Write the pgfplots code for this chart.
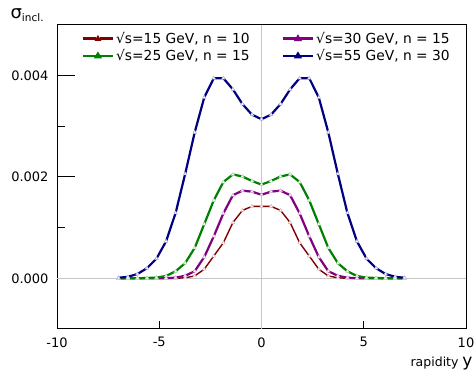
\documentclass[border=0pt]{standalone}
\usepackage{fontspec}
\setmainfont{DejaVu Sans}
\usepackage{pgfplots}
\pgfplotsset{compat=1.18}
\definecolor{cred}{RGB}{128,0,0}
\definecolor{cgreen}{RGB}{0,128,0}
\definecolor{cpurple}{RGB}{128,0,128}
\definecolor{cblue}{RGB}{0,0,128}
\begin{document}
\begin{tikzpicture}
\begin{axis}[
  scale only axis, width=409pt, height=304pt,
  xmin=-10, xmax=10, ymin=-0.001, ymax=0.005,
  clip=false,
  axis line style={line width=1pt},
  every tick/.style={black, line width=1pt},
  tick pos=left, tick align=inside,
  xtick={-10,0,10},
  extra x ticks={-5,5},
  extra x tick style={major tick length=8pt},
  ytick={0,0.002,0.004},
  minor ytick={-0.001,0.001,0.003,0.005},
  major tick length=18pt, minor tick length=8pt,
  scaled y ticks=false,
  /pgf/number format/assume math mode=true,
  yticklabel style={/pgf/number format/.cd, fixed, fixed zerofill, precision=3, /tikz/.cd, xshift=-5pt},
  xticklabel style={yshift=-5pt},
  tick label style={font=\fontsize{13}{14}\selectfont},
  legend style={at={(0.0525,0.99)}, anchor=north west, draw=none, fill=none,
    font=\fontsize{13.8}{15}\selectfont, row sep=0.5pt,
    /tikz/every even column/.append style={column sep=30pt}},
  legend columns=2, legend cell align=left,
  legend image code/.code={
    \draw[#1, line width=2.5pt] (0pt,0pt) -- (13pt,0pt);
    \draw[#1, line width=2.5pt] (17pt,0pt) -- (30pt,0pt);
    \fill[#1] (15pt,2.2pt) -- (12.8pt,-1.5pt) -- (17.2pt,-1.5pt) -- cycle;
  },
]
\draw[gray!45, line width=0.7pt] (axis cs:0,-0.001) -- (axis cs:0,0.005);
\draw[gray!45, line width=0.7pt] (axis cs:-10,0) -- (axis cs:10,0);

\addplot[cred, line width=1.4pt, mark=triangle*, mark size=2pt, mark options={fill=white, draw=cred!30, line width=0.5pt}] coordinates {
(-7,0) (-6.5333,0) (-6.0667,0) (-5.6,0) (-5.1333,0) (-4.6667,0) (-4.2,0) (-3.7333,0.00001)
(-3.2667,0.000046) (-2.8,0.00018) (-2.3333,0.00044) (-1.8667,0.0007) (-1.4,0.0011) (-0.9333,0.00134) (-0.4667,0.00142)
(0,0.00142)
(0.4667,0.00142) (0.9333,0.00134) (1.4,0.0011) (1.8667,0.0007) (2.3333,0.00044) (2.8,0.00018) (3.2667,0.000046)
(3.7333,0.00001) (4.2,0) (4.6667,0) (5.1333,0) (5.6,0) (6.0667,0) (6.5333,0) (7,0)
};
\addlegendentry{√s=15 GeV, n = 10}

\addplot[cpurple, line width=2.2pt, mark=triangle*, mark size=2pt, mark options={fill=white, draw=cpurple!30, line width=0.5pt}] coordinates {
(-7,0) (-6.5333,0) (-6.0667,0) (-5.6,0) (-5.1333,0) (-4.6667,0) (-4.2,0.000013) (-3.7333,0.00005)
(-3.2667,0.00014) (-2.8,0.00042) (-2.3333,0.00083) (-1.8667,0.00128) (-1.4,0.00164) (-0.9333,0.00173) (-0.4667,0.00171)
(0,0.00165)
(0.4667,0.00171) (0.9333,0.00173) (1.4,0.00164) (1.8667,0.00128) (2.3333,0.00083) (2.8,0.00042) (3.2667,0.00014)
(3.7333,0.00005) (4.2,0.000013) (4.6667,0) (5.1333,0) (5.6,0) (6.0667,0) (6.5333,0) (7,0)
};
\addlegendentry{√s=30 GeV, n = 15}

\addplot[cgreen, line width=2.2pt, mark=triangle*, mark size=2pt, mark options={fill=white, draw=cgreen!30, line width=0.5pt}] coordinates {
(-7,0) (-6.5333,0) (-6.0667,0) (-5.6,0.000007) (-5.1333,0.000013) (-4.6667,0.000046) (-4.2,0.000138) (-3.7333,0.0003)
(-3.2667,0.0006) (-2.8,0.00107) (-2.3333,0.00154) (-1.8667,0.0019) (-1.4,0.00205) (-0.9333,0.00201) (-0.4667,0.00192)
(0,0.00185)
(0.4667,0.00192) (0.9333,0.00201) (1.4,0.00205) (1.8667,0.0019) (2.3333,0.00154) (2.8,0.00107) (3.2667,0.0006)
(3.7333,0.0003) (4.2,0.000138) (4.6667,0.000046) (5.1333,0.000013) (5.6,0.000007) (6.0667,0) (6.5333,0) (7,0)
};
\addlegendentry{√s=25 GeV, n = 15}

\addplot[cblue, line width=2.2pt, mark=triangle*, mark size=2pt, mark options={fill=white, draw=cblue!30, line width=0.5pt}] coordinates {
(-7,0.00001) (-6.5333,0.00003) (-6.0667,0.000085) (-5.6,0.0002) (-5.1333,0.00039) (-4.6667,0.00073) (-4.2,0.00129) (-3.7333,0.00206)
(-3.2667,0.00288) (-2.8,0.00357) (-2.3333,0.00395) (-1.8667,0.00395) (-1.4,0.00373) (-0.9333,0.00344) (-0.4667,0.00323)
(0,0.00314)
(0.4667,0.00323) (0.9333,0.00344) (1.4,0.00373) (1.8667,0.00395) (2.3333,0.00395) (2.8,0.00357) (3.2667,0.00288)
(3.7333,0.00206) (4.2,0.00129) (4.6667,0.00073) (5.1333,0.00039) (5.6,0.0002) (6.0667,0.000085) (6.5333,0.00003) (7,0.00001)
};
\addlegendentry{√s=55 GeV, n = 30}

\node[anchor=base west, inner sep=0pt] at (axis description cs:-0.114,1.02) {\fontsize{18}{20}\selectfont σ\raisebox{-0.3ex}{\fontsize{10.5}{12}\selectfont incl.}};
\node[anchor=base east, inner sep=0pt] at (axis description cs:1.0165,-0.125) {\fontsize{12.5}{14}\selectfont rapidity \fontsize{17}{18}\selectfont y};
\coordinate (bbA) at (axis description cs:-0.1394,-0.1382);
\coordinate (bbB) at (axis description cs:1.0220,1.0822);
\end{axis}
\pgfresetboundingbox
\useasboundingbox (bbA) rectangle (bbB);
\end{tikzpicture}
\end{document}
